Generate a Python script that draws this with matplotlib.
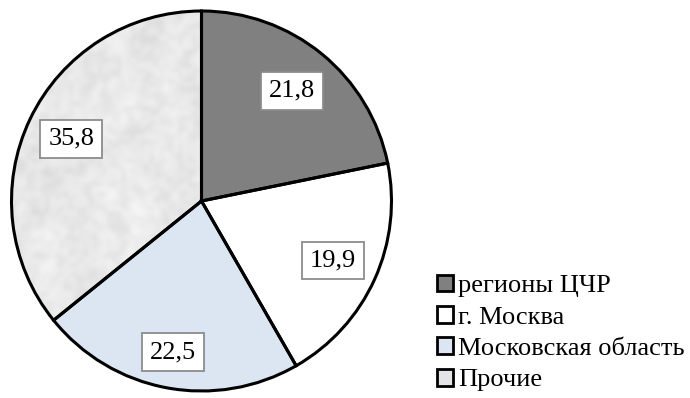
import numpy as np
import matplotlib
matplotlib.use("Agg")
import matplotlib.pyplot as plt
from matplotlib.patches import Patch, PathPatch
from matplotlib.font_manager import FontProperties, findfont

# fuente tipo Times, cargada por archivo
RUTA_FUENTE = findfont(FontProperties(family="Liberation Serif"))
fuente_etiq = FontProperties(fname=RUTA_FUENTE, size=19)
fuente_ley = FontProperties(fname=RUTA_FUENTE, size=19)

# datos
categorias = ["регионы ЦЧР", "г. Москва", "Московская область", "Прочие"]
valores = [21.8, 19.9, 22.5, 35.8]
etiquetas = ["21,8", "19,9", "22,5", "35,8"]
colores = ["#808080", "#ffffff", "#dce6f2", "#e4e4e6"]
dist_etiq = [0.75, 0.76, 0.81, 0.76]  # distancia de cada etiqueta al centro

fig = plt.figure(figsize=(6.9, 3.98), dpi=100)
# pie centrado en (201.5, 201) px, radio 190 px
lado = 190 * 1.01
ax = fig.add_axes([(201.5 - lado) / 690, (398 - 201 - lado) / 398,
                   2 * lado / 690, 2 * lado / 398])

cunas, _ = ax.pie(valores, colors=colores, startangle=90, counterclock=False,
                  wedgeprops=dict(edgecolor="none"))
ax.set_xlim(-1.01, 1.01)
ax.set_ylim(-1.01, 1.01)
ax.set_aspect("equal")
ax.axis("off")

# textura tipo marmol para "Прочие"
rng = np.random.default_rng(5)
grueso = rng.random((9, 9))
medio = rng.random((26, 26))
fino = rng.random((80, 80))
for capa, alfa, vmax in [(grueso, 1.0, 7.0), (medio, 0.4, 3.0), (fino, 0.25, 2.5)]:
    im = ax.imshow(capa, cmap="Greys", vmin=-0.1, vmax=vmax, extent=(-1, 1, -1, 1),
                   interpolation="bicubic", alpha=alfa, zorder=1.5)
    im.set_clip_path(cunas[3])

# bordes negros encima
for c in cunas:
    ax.add_patch(PathPatch(c.get_path(), transform=c.get_transform(), fill=False,
                           edgecolor="black", linewidth=2.2, zorder=3, clip_on=False))

# etiquetas con recuadro
for c, txt, d in zip(cunas, etiquetas, dist_etiq):
    ang = np.deg2rad((c.theta1 + c.theta2) / 2)
    ax.text(d * np.cos(ang), d * np.sin(ang), txt, ha="center", va="center",
            fontproperties=fuente_etiq, zorder=4,
            bbox=dict(boxstyle="square,pad=0.3", fc="white", ec="#8c8c8c", lw=1.3))

# leyenda
manejadores = [Patch(facecolor=col, edgecolor="black", linewidth=2) for col in colores]
fig.legend(manejadores, categorias, loc="center left",
           bbox_to_anchor=(437 / 690, 1 - 333 / 398), frameon=False,
           prop=fuente_ley, handlelength=0.6, handleheight=0.6,
           handletextpad=0.2, labelspacing=0.33, borderpad=0, borderaxespad=0)

fig.savefig("out.png", dpi=100)
